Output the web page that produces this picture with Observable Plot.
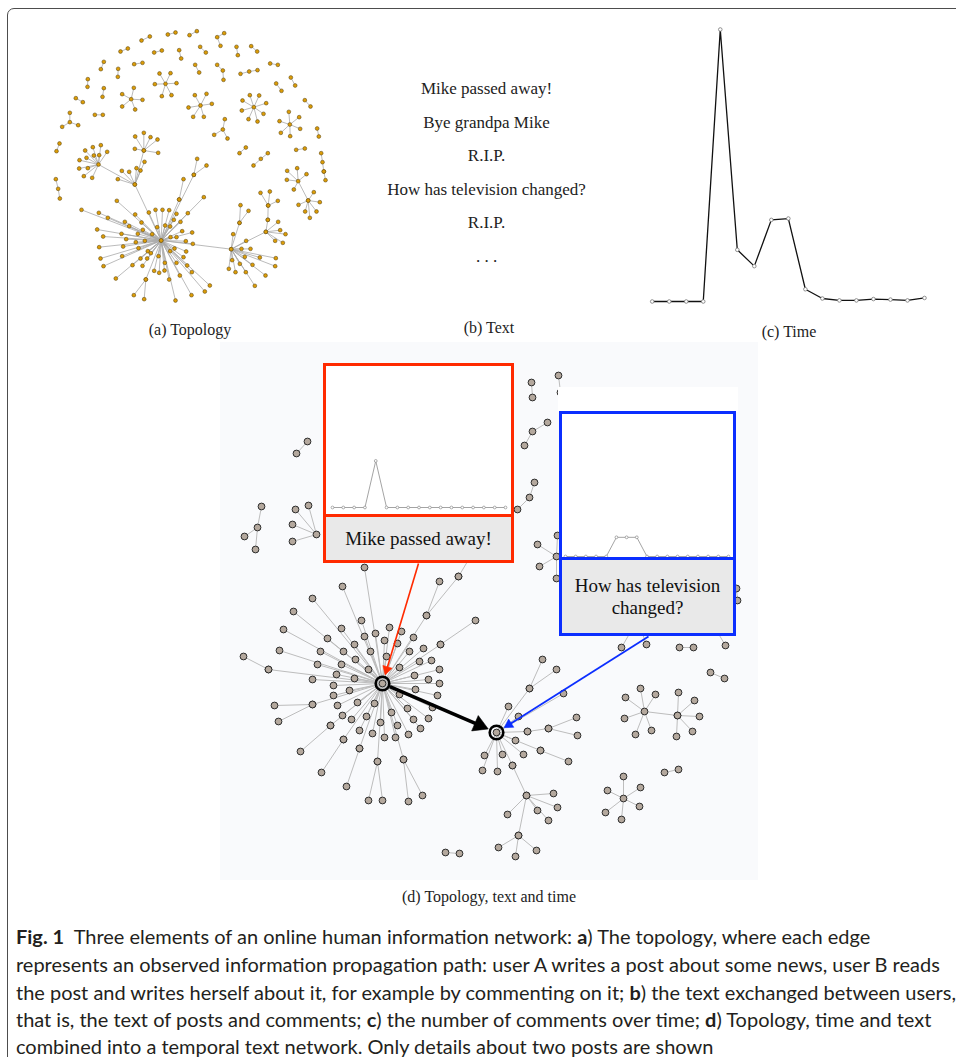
<!DOCTYPE html>
<html><head><meta charset="utf-8">
<script src="https://cdn.jsdelivr.net/npm/d3@7"></script>
<script src="https://cdn.jsdelivr.net/npm/@observablehq/plot@0.6"></script>
<style>
html,body{margin:0;padding:0;background:#fff;}
#page{position:relative;width:956px;height:1057px;overflow:hidden;background:#fff;}
#frame{position:absolute;left:7px;top:8px;width:1000px;height:1100px;border:1.5px solid #4d4d4d;border-top-left-radius:7px;box-sizing:border-box;}
.abs{position:absolute;}
.lbl{position:absolute;font-family:"Liberation Serif",serif;font-size:16px;color:#222;transform:translateX(-50%);white-space:nowrap;line-height:16px;}
.callout{position:absolute;box-sizing:border-box;border:3px solid;background:#fff;}
.callout .txt{display:flex;align-items:center;justify-content:center;text-align:center;background:#e9e9e9;font-family:"Liberation Serif",serif;font-size:19px;color:#111;line-height:22px;}
.cap{position:absolute;left:16px;white-space:nowrap;font-family:"Liberation Sans Narrow","Lato",sans-serif;font-size:19.5px;line-height:22px;color:#231f20;transform-origin:0 50%;}
.cap b{font-weight:bold;}
</style></head>
<body>
<div id="page">
  <div id="frame"></div>
  <div class="abs" id="panelA" style="left:40px;top:20px;width:300px;height:300px"></div>
  <div class="abs" id="panelB" style="left:336px;top:60px;width:300px;height:220px"></div>
  <div class="abs" id="panelC" style="left:630px;top:20px;width:320px;height:300px"></div>
  <div class="lbl" style="left:190px;top:322px">(a) Topology</div>
  <div class="lbl" style="left:489px;top:320px">(b) Text</div>
  <div class="lbl" style="left:789px;top:324px">(c) Time</div>
  <div class="abs" id="panelD" style="left:220px;top:342px;width:538px;height:538px"></div>
  <div class="callout" style="left:323px;top:363px;width:191px;border-color:#ff2a00">
    <div id="redChart" style="height:148px;background:#fff"></div>
    <div class="txt" style="height:43px;border-top:3px solid #ff2a00">Mike passed away!</div>
  </div>
  <div class="abs" style="left:558px;top:387px;width:180px;height:25px;background:#fff"></div>
  <div class="callout" style="left:559px;top:411px;width:177px;border-color:#0b2eff">
    <div id="blueChart" style="height:143px;background:#fff"></div>
    <div class="txt" style="height:73px;border-top:3px solid #0b2eff">How has television<br>changed?</div>
  </div>
  <div class="lbl" style="left:489px;top:889px">(d) Topology, text and time</div>
  <div class="cap" style="top:926px"><b>Fig. 1</b>&nbsp; Three elements of an online human information network: <b>a</b>) The topology, where each edge</div>
  <div class="cap" style="top:954px">represents an observed information propagation path: user A writes a post about some news, user B reads</div>
  <div class="cap" style="top:982px">the post and writes herself about it, for example by commenting on it; <b>b</b>) the text exchanged between users,</div>
  <div class="cap" style="top:1009px">that is, the text of posts and comments; <b>c</b>) the number of comments over time; <b>d</b>) Topology, time and text</div>
  <div class="cap" style="top:1036px">combined into a temporal text network. Only details about two posts are shown</div>
</div>
<script>
// ---------- DATA ----------
// (a) topology: groups of [hubX, hubY, [[leafX, leafY], ...]] in layout units (0..900)
const topoAGroups = [
  [303,60,[[328,48]]],[382,42,[[405,36]]],[447,44,[[469,32]]],[530,50,[[551,38],[540,76]]],
  [240,93,[[262,84]]],[341,96,[[364,90]]],[479,79,[[496,96]]],[588,79,[[592,104]]],[632,77,[[650,93]]],
  [416,89,[[422,114]]],[190,124,[[181,146]]],[281,131,[[306,127]]],[233,145,[[232,169]]],[464,133,[[476,156]]],
  [547,150,[[530,133],[549,178]]],[626,153,[[600,160],[651,149]]],[689,129,[[712,133]]],[142,176,[[141,199]]],
  [190,203,[[186,229]]],[751,171,[[764,195]]],[707,189,[[723,211]]],[106,233,[[127,245]]],[163,283,[[187,283]]],
  [793,239,[[810,258]]],[88,305,[[88,277],[65,319],[113,314]]],[547,327,[[553,296],[521,343],[561,354]]],
  [830,324,[[835,348]]],[57,369,[[48,392]]],[616,381,[[597,398]]],[767,388,[[793,384]]],
  [846,425,[[842,398],[850,453]]],[850,453,[[855,479]]],[661,415,[[682,398],[639,435]]],[53,505,[[46,476],[58,534]]],
  [375,190,[[357,159],[390,158],[343,191],[408,188],[364,227],[393,224]]],
  [272,236,[[280,202],[245,221],[306,238],[245,258],[284,267]]],
  [480,255,[[463,224],[498,220],[444,261],[514,250],[458,289],[490,289]]],
  [640,260,[[606,240],[628,224],[656,225],[677,248],[604,270],[624,296],[651,303],[669,280]]],
  [748,312,[[717,302],[745,274],[776,290],[779,325],[721,337],[749,347]]],
  [773,482,[[740,451],[770,443],[798,461],[739,478],[760,507],[803,540]]],
  [803,540,[[820,515],[838,545],[774,553],[794,573],[808,592],[828,573]]],
  [174,432,[[134,390],[157,380],[181,374],[200,394],[117,419],[138,412],[160,405],[116,444],[142,443],[130,467],[155,472],[176,404],[283,492]]],
  [283,492,[[244,451],[232,476],[266,454],[288,443],[300,450],[312,424],[310,390],[362,660]]],
  [310,390,[[284,348],[310,337],[330,350],[351,357],[283,385],[353,397]]],
  [362,660,[[123,568],[175,577],[202,592],[229,541],[253,604],[266,617],[284,582],[303,606],[307,628],[325,576],
    [345,568],[366,568],[386,569],[408,580],[416,537],[442,578],[490,530],[460,463],[170,627],[188,648],[176,680],
    [180,714],[189,737],[226,774],[243,640],[248,678],[245,707],[257,656],[276,734],[286,665],[292,640],[294,683],
    [300,714],[306,736],[316,777],[320,714],[322,692],[335,641],[341,751],[356,757],[372,750],[373,727],[386,777],
    [389,692],[400,598],[408,727],[418,765],[420,604],[425,632],[429,710],[436,662],[437,693],[440,735],[455,636],
    [457,670],[454,755],[390,650],[408,650],[350,620],[374,615],[331,698],[354,707],[313,661],[402,684],[389,618],
    [405,840],[493,813],[508,795],[453,824],[572,686]]],
  [316,777,[[280,824],[311,836]]],[416,537,[[429,476]]],[460,463,[[470,415],[498,435]]],
  [572,686,[[578,641],[597,607],[617,661],[603,685],[630,685],[613,709],[658,711],[706,713],[565,745],[575,719],
    [585,755],[598,730],[616,755],[636,733],[675,765],[643,796],[704,737],[676,634]]],
  [597,607,[[600,554],[624,571]]],
  [676,634,[[682,598],[713,604],[735,641],[727,667],[704,661],[719,629]]],
  [682,598,[[683,555]]],[683,555,[[660,517],[688,513],[712,541]]]
];

// (b) text
const textLines = ["Mike passed away!","Bye grandpa Mike","R.I.P.","How has television changed?","R.I.P.",". . ."];

// (c) number of comments over time
const timeSlots = [1,2,3,4,5,6,7,8,9,10,11,12,13,14,15,16,17];
const commentCounts = [0,0,0,0,100,19,13,30,30.5,4.5,1.1,0.4,0.4,0.9,0.7,0.4,1.3];
const redPostCounts = [0,0,0,0,34,0,0,0,0,0,0,0,0,0,0,0,0];
const bluePostCounts = [0,0,0,0,0,14,14,14,0,0,0,0,0,0,0,0,0];

// (d) combined network, layout units
const topoDGroups = [
  [382,683,[[364,567],[342,586],[312,598],[293,611],[283,629],[279,650],[268,669],[312,679],[312,704],[330,725],
    [343,739],[359,748],[377,761],[403,759],[342,715],[337,705],[333,695],[333,685],[336,674],[341,664],[343,651],
    [327,638],[341,628],[354,644],[355,659],[349,690],[357,702],[366,716],[374,703],[380,722],[384,737],[372,733],
    [359,730],[351,719],[354,678],[368,669],[370,651],[361,620],[364,636],[375,633],[384,640],[389,627],[386,656],
    [397,643],[401,631],[409,651],[413,637],[423,648],[419,661],[431,660],[414,675],[428,679],[439,669],[439,683],
    [415,689],[399,694],[437,695],[432,707],[407,708],[413,719],[428,718],[420,728],[397,725],[408,734],[395,737],
    [391,712],[426,615],[440,644],[399,667],[320,651],[317,664]]],
  [268,669,[[243,656]]],[312,704,[[274,705],[278,721]]],[330,725,[[300,751]]],[343,739,[[321,772]]],
  [359,748,[[346,786]]],[377,761,[[368,800],[382,800]]],[403,759,[[408,801],[422,795]]],
  [426,615,[[439,581],[458,576]]],[440,644,[[475,620]]],[458,576,[[470,556]]],
  [496,732,[[508,706],[529,688],[518,716],[563,693],[527,731],[515,740],[523,754],[540,750],[484,755],[482,770],
    [502,754],[497,771],[512,765]]],
  [529,688,[[542,659],[556,669]]],[527,731,[[548,728]]],[548,728,[[576,717],[577,735]]],[540,750,[[568,761]]],
  [512,765,[[526,795]]],[526,795,[[553,793],[557,807],[537,810],[548,820],[507,814],[518,835]]],
  [518,835,[[498,847],[515,856],[536,850]]],[445,852,[[459,853]]],
  [296,453,[[307,441]]],[257,527,[[261,506],[244,536],[255,549]]],[316,534,[[295,509],[308,505],[292,524],[292,541]]],
  [531,382,[[532,397]]],[558,375,[[560,392]]],[532,431,[[547,422],[524,445]]],[529,497,[[534,482],[517,509]]],
  [556,556,[[537,544],[539,566],[557,535],[556,578]]],
  [621,647,[[632,628]]],[646,644,[[640,628]]],[679,647,[[693,647]]],[725,645,[[716,630]]],[710,672,[[724,678]]],
  [737,600,[[736,588]]],
  [644,711,[[625,697],[640,688],[655,694],[624,718],[635,734],[651,730],[677,715]]],
  [677,715,[[678,692],[694,700],[699,716],[692,731],[676,736]]],
  [664,772,[[678,769]]],
  [623,798,[[623,776],[607,790],[640,787],[605,812],[621,819],[639,806]]]
];
const highlightNodes = [[382,683],[496,732]];
const arrowFrom = [[418,563],[648,636],[382,683]];
const arrowTo = [[382,683],[496,732],[496,732]];
const arrowColors = ["#ff2a00","#0b2eff","#000000"];

// ---------- HELPERS ----------
function graph(groups){
  const nodes=[], edges=[];
  for (const [hx,hy,leaves] of groups){
    nodes.push({x:hx,y:hy});
    for (const [lx,ly] of leaves){ edges.push({x1:hx,y1:hy,x2:lx,y2:ly}); nodes.push({x:lx,y:ly}); }
  }
  return {nodes, edges};
}
const noAxis = {axis:null};

// ---------- (a) ----------
const A = graph(topoAGroups);
document.getElementById("panelA").append(Plot.plot({
  width:300, height:300, margin:0, style:{background:"transparent"},
  x:{...noAxis, domain:[0,900], range:[0,300]}, y:{...noAxis, domain:[0,900], range:[0,300]},
  marks:[
    Plot.link(A.edges,{x1:"x1",y1:"y1",x2:"x2",y2:"y2",stroke:"#a9a9a9",strokeWidth:0.8}),
    Plot.dot(A.nodes,{x:"x",y:"y",r:1.9,fill:"#dc9c06",stroke:"#5c4a1c",strokeWidth:0.55})
  ]
}));

// ---------- (b) ----------
const textData = textLines.map((s,i)=>({s,i}));
document.getElementById("panelB").append(Plot.plot({
  width:300, height:220, margin:0, style:{background:"transparent"},
  x:{...noAxis, domain:[0,1], range:[0,300]}, y:{...noAxis, domain:[0,5], range:[28,196]},
  marks:[Plot.text(textData,{x:()=>0.5,y:"i",text:"s",fontFamily:"Liberation Serif, serif",fontSize:17,fill:"#222"})]
}));

// ---------- (c) ----------
const timeData = timeSlots.map((t,i)=>({t, c:commentCounts[i]}));
document.getElementById("panelC").append(Plot.plot({
  width:320, height:300, margin:0, style:{background:"transparent"},
  x:{...noAxis, domain:[1,17], range:[21.7,294]}, y:{...noAxis, domain:[0,100], range:[281,9]},
  marks:[
    Plot.line(timeData,{x:"t",y:"c",stroke:"#111",strokeWidth:1.3}),
    Plot.dot(timeData,{x:"t",y:"c",r:1.8,fill:"#fff",stroke:"#777",strokeWidth:0.8})
  ]
}));

// ---------- mini charts ----------
function mini(el, counts, w, h, xr, yr){
  const data = timeSlots.map((t,i)=>({t,c:counts[i]}));
  document.getElementById(el).append(Plot.plot({
    width:w, height:h, margin:0, style:{background:"#fff"},
    x:{...noAxis, domain:[1,17], range:xr}, y:{...noAxis, domain:[0,100], range:yr},
    marks:[
      Plot.line(data,{x:"t",y:"c",stroke:"#9a9a9a",strokeWidth:0.9}),
      Plot.dot(data,{x:"t",y:"c",r:1.4,fill:"#fff",stroke:"#8a8a8a",strokeWidth:0.7})
    ]
  }));
}
mini("redChart", redPostCounts, 185, 148, [6,179], [141,4]);
mini("blueChart", bluePostCounts, 171, 143, [3,166], [142,5]);

// ---------- (d) ----------
const D = graph(topoDGroups);
const headR = [3.6,3.6,6.2], gaps=[9,9,9], widths=[1.6,1.8,3.6];
const arrows = arrowFrom.map((f,i)=>{
  const t = arrowTo[i], dx=t[0]-f[0], dy=t[1]-f[1], len=Math.hypot(dx,dy), ux=dx/len, uy=dy/len;
  const tipX=t[0]-ux*gaps[i], tipY=t[1]-uy*gaps[i];
  const cx=tipX-ux*1.555*headR[i], cy=tipY-uy*1.555*headR[i];
  const s = i===2 ? 8 : 0;
  return {x1:f[0]+ux*s, y1:f[1]+uy*s, x2:cx, y2:cy, cx, cy, r:headR[i], w:widths[i], color:arrowColors[i],
          rot: Math.atan2(dx,-dy)*180/Math.PI};
});
document.getElementById("panelD").append(Plot.plot({
  width:538, height:538, margin:0, style:{background:"#f9fafc"},
  x:{...noAxis, domain:[220,758], range:[0,538]}, y:{...noAxis, domain:[342,880], range:[0,538]},
  r:{type:"identity"},
  marks:[
    Plot.link(D.edges,{x1:"x1",y1:"y1",x2:"x2",y2:"y2",stroke:"#bdbdbd",strokeWidth:1}),
    Plot.dot(D.nodes,{x:"x",y:"y",r:3.4,fill:"#b4a89d",stroke:"#2e2e2e",strokeWidth:1}),
    Plot.dot(highlightNodes,{x:d=>d[0],y:d=>d[1],r:6.8,fill:"none",stroke:"#000",strokeWidth:2.6}),
    Plot.link(arrows,{x1:"x1",y1:"y1",x2:"x2",y2:"y2",stroke:"color",strokeWidth:"w"}),
    Plot.dot(arrows,{x:"cx",y:"cy",r:"r",symbol:"triangle",rotate:"rot",fill:"color",stroke:"color",strokeWidth:0.5})
  ]
}));

// ---------- caption width fit ----------
const caps = document.querySelectorAll(".cap");
const k = 940 / caps[2].getBoundingClientRect().width;
caps.forEach(c => c.style.transform = `scaleX(${k})`);
</script>
</body></html>
